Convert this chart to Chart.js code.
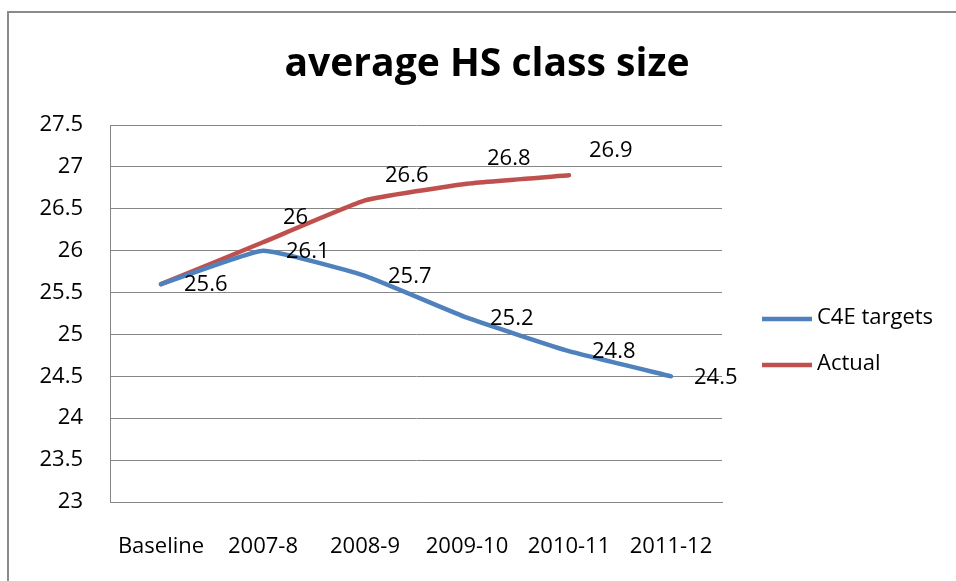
<!DOCTYPE html>
<html>
<head>
<meta charset="utf-8">
<script src="https://cdn.jsdelivr.net/npm/chart.js@4.4.1/dist/chart.umd.min.js"></script>
<style>
  html, body { margin: 0; padding: 0; background: #fff; }
  #wrap { position: relative; width: 956px; height: 581px; }
</style>
</head>
<body>
<div id="wrap"><canvas id="c" width="956" height="581"></canvas></div>
<script>
// ---- data ----
const categories = ["Baseline", "2007-8", "2008-9", "2009-10", "2010-11", "2011-12"];
const targetValues = [25.6, 26.0, 25.7, 25.2, 24.8, 24.5];
const actualValues = [25.6, 26.1, 26.6, 26.8, 26.9];
const targetLabels = ["25.6", "26.1", "25.7", "25.2", "24.8", "24.5"];
const actualLabels = ["", "26", "26.6", "26.8", "26.9"];
const seriesNames = ["C4E targets", "Actual"];
const chartTitle = "average HS class size";
const yMin = 23, yMax = 27.5, yStep = 0.5;

const FONT = "'Open Sans', 'Noto Sans', sans-serif";
const BLUE = "#4F81BD";
const RED = "#C0504D";
const GRID = "#868686";

const framePlugin = {
  id: 'frame',
  beforeDraw(chart) {
    const ctx = chart.ctx;
    ctx.save();
    ctx.fillStyle = '#fff';
    ctx.fillRect(0, 0, chart.width, chart.height);
    ctx.strokeStyle = '#8a8a8a';
    ctx.lineWidth = 2;
    ctx.beginPath();
    ctx.moveTo(8, chart.height);
    ctx.lineTo(8, 12);
    ctx.lineTo(chart.width, 12);
    ctx.stroke();
    ctx.restore();
  },
  afterDraw(chart) {
    const ctx = chart.ctx;
    ctx.save();
    // title
    ctx.fillStyle = '#000';
    ctx.font = "bold 39px " + FONT;
    ctx.textAlign = 'center';
    ctx.textBaseline = 'alphabetic';
    const tw = ctx.measureText(chartTitle).width;
    const target = 405;
    ctx.translate(487, 76);
    ctx.scale(target / tw, 1);
    ctx.fillText(chartTitle, 0, 0);
    ctx.restore();

    // data labels
    ctx.save();
    ctx.font = "22px " + FONT;
    ctx.fillStyle = '#000';
    ctx.textAlign = 'left';
    ctx.textBaseline = 'middle';
    const m0 = chart.getDatasetMeta(0);
    m0.data.forEach((pt, i) => {
      if (targetLabels[i]) ctx.fillText(targetLabels[i], pt.x + 23, pt.y + 1);
    });
    const m1 = chart.getDatasetMeta(1);
    m1.data.forEach((pt, i) => {
      if (actualLabels[i]) ctx.fillText(actualLabels[i], pt.x + 20, pt.y - 25);
    });
    ctx.restore();

    // legend
    ctx.save();
    ctx.font = "22px " + FONT;
    ctx.textAlign = 'left';
    ctx.textBaseline = 'middle';
    const ly = [319, 365];
    chart.data.datasets.forEach((ds, i) => {
      ctx.strokeStyle = ds.borderColor;
      ctx.lineWidth = 4.5;
      ctx.beginPath();
      ctx.moveTo(762, ly[i]);
      ctx.lineTo(812, ly[i]);
      ctx.stroke();
      ctx.fillStyle = '#000';
      ctx.fillText(ds.label, 817, ly[i] - 1);
    });
    ctx.restore();
  }
};

new Chart(document.getElementById('c'), {
  type: 'line',
  data: {
    labels: categories,
    datasets: [
      { label: seriesNames[0], data: targetValues, borderColor: BLUE, backgroundColor: BLUE,
        borderWidth: 4.5, pointRadius: 0, tension: 0.12, borderCapStyle: 'round', borderJoinStyle: 'round' },
      { label: seriesNames[1], data: actualValues, borderColor: RED, backgroundColor: RED,
        borderWidth: 4.5, pointRadius: 0, tension: 0.12, borderCapStyle: 'round', borderJoinStyle: 'round' }
    ]
  },
  options: {
    responsive: false,
    animation: false,
    devicePixelRatio: 1,
    layout: { padding: { top: 125, right: 234, left: 0, bottom: 0 } },
    plugins: { legend: { display: false }, title: { display: false }, tooltip: { enabled: false } },
    scales: {
      x: {
        offset: true,
        grid: { display: false, drawTicks: false },
        border: { display: true, color: GRID, width: 1 },
        ticks: { color: '#000', font: { family: FONT, size: 22 }, padding: 32, autoSkip: false, maxRotation: 0, minRotation: 0 },
        afterFit(scale) { scale.height = 79; }
      },
      y: {
        min: yMin, max: yMax,
        grid: { color: GRID, lineWidth: 1, drawTicks: false },
        border: { display: true, color: GRID, width: 1 },
        ticks: { stepSize: yStep, color: '#000', font: { family: FONT, size: 22 }, padding: 27,
                 callback: (v) => String(Number(Number(v).toFixed(1))) },
        afterFit(scale) { scale.width = 110; }
      }
    }
  },
  plugins: [framePlugin]
});
</script>
</body>
</html>
